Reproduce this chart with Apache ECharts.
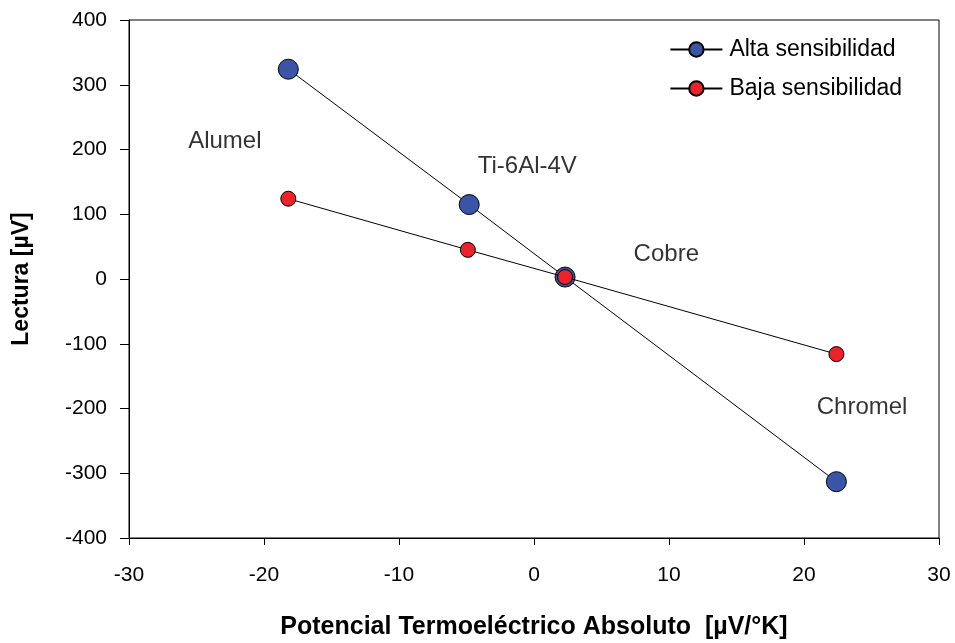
<!DOCTYPE html>
<html>
<head>
<meta charset="utf-8">
<script src="https://cdn.jsdelivr.net/npm/echarts@6/dist/echarts.min.js"></script>
<style>
html,body{margin:0;padding:0;background:#fff;}
#c{width:955px;height:643px;}
</style>
</head>
<body>
<div id="c"></div>
<script>
var altaX = [-18.2, -4.8, 2.3, 22.4];
var altaY = [324, 115, 3, -313];
var bajaX = [-18.2, -4.9, 2.3, 22.4];
var bajaY = [124, 45, 3, -116];
var seriesNames = ['Alta sensibilidad', 'Baja sensibilidad'];
var annotTexts = ['Alumel', 'Ti-6Al-4V', 'Cobre', 'Chromel'];
var annotX = [-22.9, -0.5, 9.8, 24.3];
var annotY = [213, 174, 38, -198];
var xTicks = [-30, -20, -10, 0, 10, 20, 30];
var yTicks = [-400, -300, -200, -100, 0, 100, 200, 300, 400];

var font = 'Liberation Sans, Arial, sans-serif';
var chart = echarts.init(document.getElementById('c'));

function pairs(xs, ys){ return xs.map(function(x,i){ return [x, ys[i]]; }); }

chart.setOption({
  backgroundColor: '#fff',
  animation: false,
  grid: {left: 129, top: 20, right: 16, bottom: 105, show: true, borderColor: '#000', borderWidth: 1,
    containLabel: false, outerBoundsMode: 'none'},
  xAxis: {
    type: 'value', min: xTicks[0], max: xTicks[xTicks.length-1], interval: 10,
    name: 'Potencial Termoeléctrico Absoluto  [µV/°K]',
    nameLocation: 'middle', nameGap: 77,
    nameTextStyle: {fontFamily: font, fontSize: 25, fontWeight: 'bold', color: '#000'},
    axisLine: {onZero: false, lineStyle: {color: '#000', width: 1}},
    axisTick: {show: true, inside: false, length: 7, lineStyle: {color: '#000'}},
    axisLabel: {fontFamily: font, fontSize: 21, color: '#000', margin: 27},
    splitLine: {show: false}
  },
  yAxis: {
    type: 'value', min: yTicks[0], max: yTicks[yTicks.length-1], interval: 100,
    name: 'Lectura [µV]',
    nameLocation: 'middle', nameGap: 96, nameRotate: 90,
    nameTextStyle: {fontFamily: font, fontSize: 23, fontWeight: 'bold', color: '#000'},
    axisLine: {onZero: false, lineStyle: {color: '#000', width: 1}},
    axisTick: {show: true, inside: false, length: 9, lineStyle: {color: '#000'}},
    axisLabel: {fontFamily: font, fontSize: 21, color: '#000', margin: 22},
    splitLine: {show: false}
  },
  legend: {
    right: 48, top: 33, orient: 'vertical', itemGap: 16,
    itemWidth: 52, itemHeight: 18,
    textStyle: {fontFamily: font, fontSize: 23, color: '#000', padding: [0,0,0,2]},
    data: seriesNames
  },
  series: [
    {
      name: seriesNames[0], type: 'line', data: pairs(altaX, altaY),
      symbol: 'circle', symbolSize: 20,
      lineStyle: {color: '#000', width: 1},
      itemStyle: {color: '#3a55a6', borderColor: '#000', borderWidth: 1},
      z: 3
    },
    {
      name: seriesNames[1], type: 'line', data: pairs(bajaX, bajaY),
      symbol: 'circle', symbolSize: 15,
      lineStyle: {color: '#000', width: 1},
      itemStyle: {color: '#e8232a', borderColor: '#000', borderWidth: 1},
      z: 4
    },
    {
      name: 'annot', type: 'scatter', data: pairs(annotX, annotY),
      symbolSize: 0, silent: true, legendHoverLink: false,
      label: {show: true, position: 'inside', fontFamily: font, fontSize: 24, color: '#000',
        formatter: function(p){ return annotTexts[p.dataIndex]; }},
      z: 5
    }
  ]
});
</script>
</body>
</html>
